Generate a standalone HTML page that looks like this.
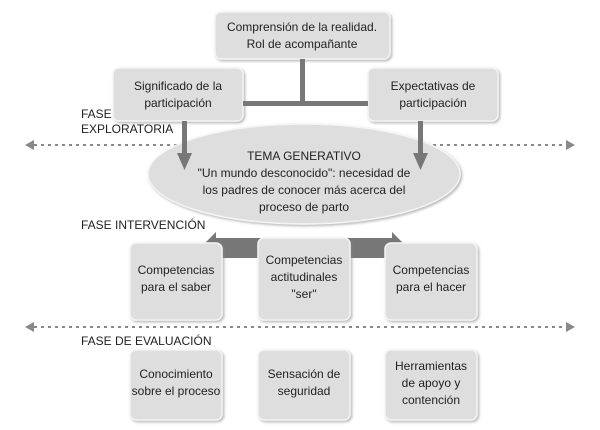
<!DOCTYPE html>
<html><head><meta charset="utf-8"><style>
html,body{margin:0;padding:0;background:#fff}
svg text{font-family:"Liberation Sans Narrow","Liberation Sans",sans-serif;font-size:12px;fill:#222}
</style></head><body>
<svg width="600" height="425" viewBox="0 0 600 425" xmlns="http://www.w3.org/2000/svg">
<defs>
<filter id="sh" x="-10%" y="-10%" width="130%" height="130%"><feDropShadow dx="1.5" dy="1.5" stdDeviation="1.2" flood-color="#888" flood-opacity="0.6"/></filter>
<marker id="ah" markerWidth="8" markerHeight="8" refX="4" refY="4" orient="auto"><path d="M0,0 L8,4 L0,8 z" fill="#888"/></marker>
</defs>
<g fill="#dedede" stroke="#f4f4f4" stroke-width="1.5" filter="url(#sh)">
<rect x="215" y="12" width="175" height="47" rx="6"/>
<rect x="113" y="68" width="130" height="53" rx="6"/>
<rect x="368" y="68" width="130" height="53" rx="6"/>
</g>
<g fill="#777">
<rect x="300" y="59" width="5" height="46"/>
<rect x="243" y="101" width="125" height="5"/>
<rect x="182" y="121" width="5" height="32"/>
<path d="M177,150 L192,150 L184.5,170 z"/>
<rect x="418" y="121" width="5" height="32"/>
<path d="M413,150 L428,150 L420.5,170 z"/>
</g>
<g stroke="#888" stroke-width="2" stroke-dasharray="3,4" fill="none">
<line x1="34" y1="145" x2="567" y2="145"/>
<line x1="34" y1="327" x2="567" y2="327"/>
</g>
<g fill="#888">
<path d="M25,145 L34,140 L34,150 z"/><path d="M575,145 L566,140 L566,150 z"/>
<path d="M25,327 L34,322 L34,332 z"/><path d="M575,327 L566,322 L566,332 z"/>
</g>
<ellipse cx="304" cy="174" rx="156" ry="50" fill="#dedede" stroke="#f4f4f4" stroke-width="1.5" filter="url(#sh)"/>
<path d="M182,121 L187,121 L187,153 L192,153 L184.5,170 L177,153 L182,153 z" fill="#777"/>
<path d="M418,121 L423,121 L423,153 L428,153 L420.5,170 L413,153 L418,153 z" fill="#777"/>
<path d="M200,248 L216,232 L216,238 L392,238 L392,232 L408,248 L392,264 L392,258 L216,258 L216,264 z" fill="#777"/>
<g fill="#dedede" stroke="#f4f4f4" stroke-width="1.5" filter="url(#sh)">
<rect x="130" y="243" width="92" height="77" rx="6"/>
<rect x="258" y="238" width="92" height="82" rx="6"/>
<rect x="385" y="243" width="92" height="77" rx="6"/>
<rect x="130" y="350" width="92" height="70" rx="6"/>
<rect x="258" y="350" width="92" height="70" rx="6"/>
<rect x="385" y="350" width="92" height="70" rx="6"/>
</g>
<g text-anchor="middle">
<text x="302" y="31">Comprensión de la realidad.</text>
<text x="302" y="48">Rol de acompañante</text>
<text x="178" y="90">Significado de la</text>
<text x="178" y="107">participación</text>
<text x="433" y="90">Expectativas de</text>
<text x="433" y="107">participación</text>
<text x="304" y="160">TEMA GENERATIVO</text>
<text x="304" y="177">"Un mundo desconocido": necesidad de</text>
<text x="304" y="194">los padres de conocer más acerca del</text>
<text x="304" y="211">proceso de parto</text>
<text x="176" y="274">Competencias</text>
<text x="176" y="291">para el saber</text>
<text x="304" y="264">Competencias</text>
<text x="304" y="281">actitudinales</text>
<text x="304" y="298">"ser"</text>
<text x="431" y="274">Competencias</text>
<text x="431" y="291">para el hacer</text>
<text x="176" y="378">Conocimiento</text>
<text x="176" y="395">sobre el proceso</text>
<text x="304" y="378">Sensación de</text>
<text x="304" y="395">seguridad</text>
<text x="431" y="370">Herramientas</text>
<text x="431" y="387">de apoyo y</text>
<text x="431" y="404">contención</text>
</g>
<text x="81" y="118">FASE</text>
<text x="81" y="133">EXPLORATORIA</text>
<text x="81" y="229">FASE INTERVENCIÓN</text>
<text x="81" y="345">FASE DE EVALUACIÓN</text>
</svg>
</body></html>
